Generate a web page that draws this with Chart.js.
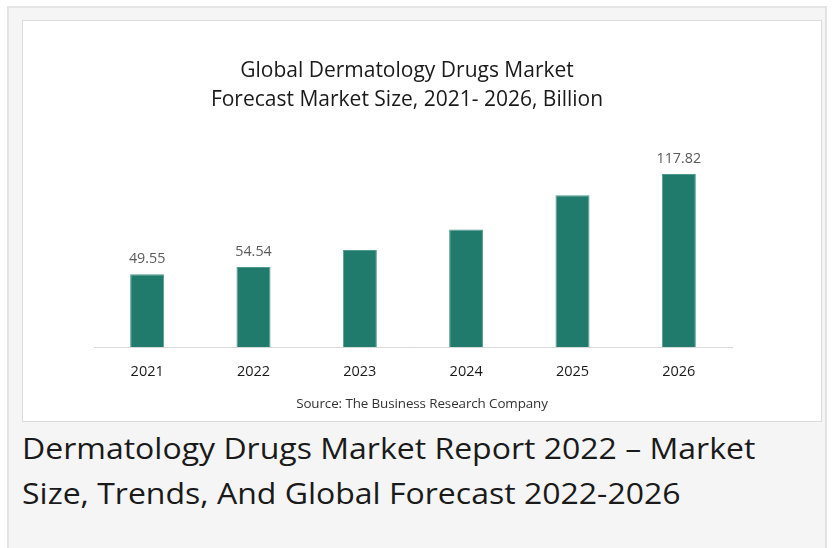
<!DOCTYPE html>
<html>
<head>
<meta charset="utf-8">
<script src="https://cdn.jsdelivr.net/npm/chart.js@4"></script>
<style>
  html, body { margin: 0; padding: 0; background: #ffffff; width: 836px; height: 548px; overflow: hidden; }
  #outer { position: absolute; left: 7px; top: 6px; width: 820px; height: 560px; background: #f5f5f5; border: 2px solid #e4e4e4; box-sizing: border-box; }
  #inner { position: absolute; left: 22px; top: 20px; width: 800px; height: 402px; background: #ffffff; border: 1px solid #dcdcdc; box-sizing: border-box; }
  #wrap { position: absolute; left: 0; top: 0; width: 798px; height: 400px; }
  #source { position: absolute; left: 0; width: 798px; top: 373px; text-align: center; font-family: "Open Sans", sans-serif; font-size: 13.4px; line-height: 18px; color: #333333; letter-spacing: -0.1px; }
  #heading { position: absolute; left: 22px; top: 425.5px; width: 810px; font-family: "Open Sans", sans-serif; font-size: 32px; line-height: 48.6px; color: #1a1a1a; transform: scaleY(0.92); transform-origin: 0 0; white-space: nowrap; }
</style>
</head>
<body>
<div id="outer"></div>
<div id="inner"><div id="wrap"><canvas id="c"></canvas></div><div id="source"></div></div>
<div id="heading">Dermatology Drugs Market Report 2022 – Market<br>Size, Trends, And Global Forecast 2022-2026</div>
<script>
const years = ['2021', '2022', '2023', '2024', '2025', '2026'];
const marketSize = [49.55, 54.54, 66.1, 80.1, 103.3, 117.82];
const shownLabels = ['49.55', '54.54', '', '', '', '117.82'];
const titleLines = ['Global Dermatology Drugs Market', 'Forecast Market Size, 2021- 2026, Billion'];
const sourceText = 'Source: The Business Research Company';

document.getElementById('source').textContent = sourceText;

const valueLabels = {
  id: 'valueLabels',
  afterDatasetsDraw(chart) {
    const ctx = chart.ctx;
    const meta = chart.getDatasetMeta(0);
    ctx.save();
    ctx.font = '14.3px "Open Sans", sans-serif';
    ctx.fillStyle = '#595959';
    ctx.textAlign = 'center';
    ctx.textBaseline = 'middle';
    meta.data.forEach((bar, i) => {
      const t = shownLabels[i];
      if (t) ctx.fillText(t, bar.x, bar.y - 15);
    });
    ctx.restore();
  }
};

new Chart(document.getElementById('c'), {
  type: 'bar',
  data: {
    labels: years,
    datasets: [{
      data: marketSize,
      backgroundColor: '#217b6c',
      borderColor: '#4f9a8c',
      borderWidth: 1,
      barPercentage: 0.64,
      categoryPercentage: 0.5
    }]
  },
  options: {
    responsive: true,
    maintainAspectRatio: false,
    animation: false,
    devicePixelRatio: 1,
    layout: { padding: { left: 59, right: 89, top: 0, bottom: 34 } },
    plugins: {
      legend: { display: false },
      tooltip: { enabled: false },
      title: {
        display: true,
        text: titleLines,
        color: '#1a1a1a',
        font: { family: '"Open Sans", sans-serif', size: 21, weight: 'normal', lineHeight: 1.381 },
        padding: { top: 35.5, bottom: 27 }
      }
    },
    scales: {
      x: {
        grid: { display: false },
        border: { display: true, color: '#d9d9d9', width: 1 },
        ticks: { color: '#1a1a1a', font: { family: '"Open Sans", sans-serif', size: 14.5 }, padding: 8 },
        afterFit(axis) { axis.height = 40; }
      },
      y: {
        display: true,
        min: 0,
        max: 140,
        grid: { display: false },
        border: { display: false },
        ticks: { display: false },
        afterFit(axis) { axis.width = 12; }
      }
    }
  },
  plugins: [valueLabels]
});
</script>
</body>
</html>
